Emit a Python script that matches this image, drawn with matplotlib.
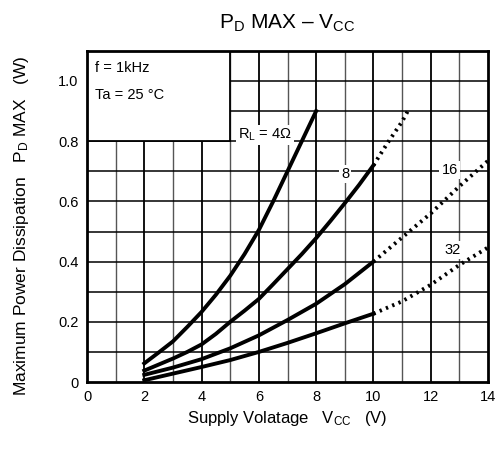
import matplotlib.pyplot as plt
from matplotlib.patches import Rectangle

plt.rcParams['font.family'] = ['Liberation Sans', 'DejaVu Sans']
plt.rcParams['mathtext.fontset'] = 'custom'
plt.rcParams['mathtext.rm'] = 'Liberation Sans'
plt.rcParams['mathtext.it'] = 'Liberation Sans'

# solid parts
vcc_4 = [2, 2.5, 3, 3.5, 4, 4.5, 5, 5.5, 6, 6.5, 7, 7.5, 8]
pd_4 = [0.062, 0.098, 0.135, 0.183, 0.233, 0.29, 0.353, 0.425, 0.505, 0.60, 0.70, 0.80, 0.90]

vcc_8 = [2, 2.5, 3, 3.5, 4, 4.5, 5, 5.5, 6, 6.5, 7, 7.5, 8, 8.5, 9, 9.5, 10]
pd_8 = [0.038, 0.058, 0.078, 0.10, 0.125, 0.16, 0.20, 0.237, 0.276, 0.325, 0.375,
        0.425, 0.478, 0.535, 0.594, 0.655, 0.72]
vcc_8_dot = [10, 10.5, 11, 11.2]
pd_8_dot = [0.72, 0.795, 0.865, 0.90]

vcc_16 = [2, 3, 4, 5, 6, 7, 8, 9, 10]
pd_16 = [0.024, 0.048, 0.076, 0.112, 0.155, 0.206, 0.26, 0.325, 0.40]
vcc_16_dot = [10, 11, 12, 13, 14]
pd_16_dot = [0.40, 0.48, 0.56, 0.65, 0.735]

vcc_32 = [2, 3, 4, 5, 6, 7, 8, 9, 10]
pd_32 = [0.006, 0.028, 0.05, 0.073, 0.10, 0.13, 0.162, 0.195, 0.227]
vcc_32_dot = [10, 11, 12, 13, 14]
pd_32_dot = [0.227, 0.268, 0.323, 0.389, 0.447]

fig = plt.figure(figsize=(5, 4.5), dpi=100)
ax = fig.add_axes([0.174, 0.151, 0.802, 0.736])
ax.set_xlim(0, 14)
ax.set_ylim(0, 1.1)

# grid
for x in range(1, 14):
    even = x % 2 == 0
    ax.axvline(x, color='black' if even else '#555555', lw=1.3 if even else 1.0, zorder=1)
for i in range(1, 11):
    ax.axhline(i / 10, color='black', lw=1.1, zorder=1)

# conditions box
ax.add_patch(Rectangle((0, 0.8), 5, 0.3, facecolor='white', edgecolor='black', lw=1.3, zorder=2))
ax.text(0.29, 1.042, 'f = 1kHz', fontsize=10.5, va='center', zorder=3)
ax.text(0.29, 0.952, 'Ta = 25 °C', fontsize=10.5, va='center', zorder=3)

lw = 2.8
ax.plot(vcc_4, pd_4, color='black', lw=lw, zorder=4)
for vx, vy, dx, dy in [(vcc_8, pd_8, vcc_8_dot, pd_8_dot),
                       (vcc_16, pd_16, vcc_16_dot, pd_16_dot),
                       (vcc_32, pd_32, vcc_32_dot, pd_32_dot)]:
    ax.plot(vx, vy, color='black', lw=lw, zorder=4)
    ax.plot(dx, dy, color='black', lw=lw, ls=(0, (0.6, 1.15)), dash_capstyle='butt', zorder=4)

bb = dict(facecolor='white', edgecolor='none', pad=1.5)
ax.text(6.2, 0.82, r'R$_{\mathrm{L}}$ = 4Ω', fontsize=10.5, ha='center', va='center', bbox=bb, zorder=3)
ax.text(9.02, 0.69, '8', fontsize=10.5, ha='center', va='center', bbox=bb, zorder=3)
ax.text(12.66, 0.705, '16', fontsize=10.5, ha='center', va='center', bbox=bb, zorder=3)
ax.text(12.75, 0.44, '32', fontsize=10.5, ha='center', va='center', bbox=bb, zorder=3)

ax.set_xticks(range(0, 15, 2))
ax.set_yticks([0, 0.2, 0.4, 0.6, 0.8, 1.0])
ax.set_yticklabels(['0', '0.2', '0.4', '0.6', '0.8', '1.0'])
ax.tick_params(length=0, labelsize=10.5, pad=6)
for s in ax.spines.values():
    s.set_linewidth(2)
    s.set_zorder(5)

ax.set_title(r'P$_{\mathrm{D}}$ MAX – V$_{\mathrm{CC}}$', fontsize=15, pad=16)
ax.set_xlabel(r'Supply Volatage   V$_{\mathrm{CC}}$   (V)', fontsize=12)
ax.set_ylabel(r'Maximum Power Dissipation   P$_{\mathrm{D}}$ MAX   (W)', fontsize=12.5)
ax.xaxis.set_label_coords(0.5, -0.08)
ax.yaxis.set_label_coords(-0.14, 0.472)

fig.savefig('out.png', dpi=100)
